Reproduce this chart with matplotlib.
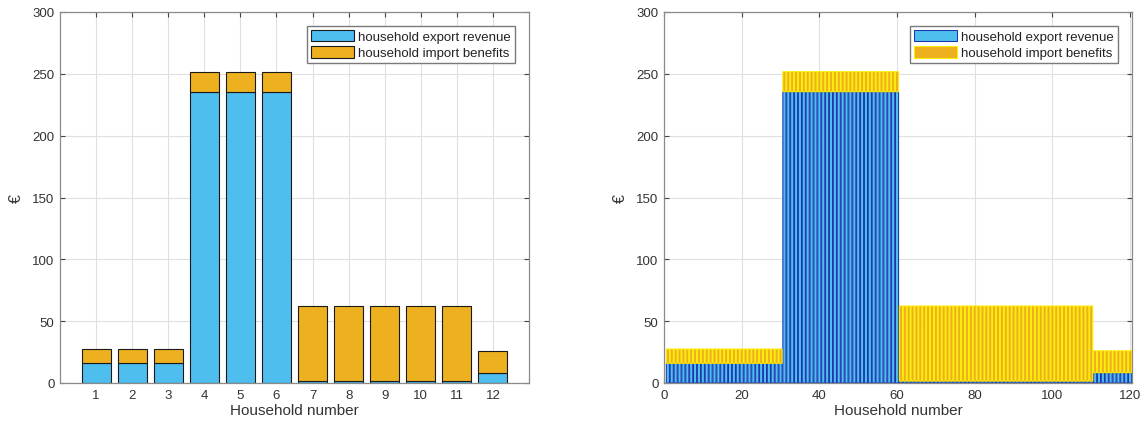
import matplotlib
matplotlib.use("Agg")
import matplotlib.pyplot as plt
import numpy as np

plt.rcParams['font.family'] = ['Liberation Sans', 'DejaVu Sans']

# ---------------- data ----------------
households_12 = [1, 2, 3, 4, 5, 6, 7, 8, 9, 10, 11, 12]
export_12 = [15.9, 15.9, 15.9, 235.5, 235.5, 235.5, 1.5, 1.5, 1.5, 1.5, 1.5, 8.3]
import_12 = [11.6, 11.6, 11.6, 16.3, 16.3, 16.3, 60.8, 60.8, 60.8, 60.8, 60.8, 17.8]

households_120 = list(range(1, 121))
export_120 = [
    15.9, 15.9, 15.9, 15.9, 15.9, 15.9, 15.9, 15.9, 15.9, 15.9,
    15.9, 15.9, 15.9, 15.9, 15.9, 15.9, 15.9, 15.9, 15.9, 15.9,
    15.9, 15.9, 15.9, 15.9, 15.9, 15.9, 15.9, 15.9, 15.9, 15.9,
    235.5, 235.5, 235.5, 235.5, 235.5, 235.5, 235.5, 235.5, 235.5, 235.5,
    235.5, 235.5, 235.5, 235.5, 235.5, 235.5, 235.5, 235.5, 235.5, 235.5,
    235.5, 235.5, 235.5, 235.5, 235.5, 235.5, 235.5, 235.5, 235.5, 235.5,
    1.5, 1.5, 1.5, 1.5, 1.5, 1.5, 1.5, 1.5, 1.5, 1.5,
    1.5, 1.5, 1.5, 1.5, 1.5, 1.5, 1.5, 1.5, 1.5, 1.5,
    1.5, 1.5, 1.5, 1.5, 1.5, 1.5, 1.5, 1.5, 1.5, 1.5,
    1.5, 1.5, 1.5, 1.5, 1.5, 1.5, 1.5, 1.5, 1.5, 1.5,
    1.5, 1.5, 1.5, 1.5, 1.5, 1.5, 1.5, 1.5, 1.5, 1.5,
    8.3, 8.3, 8.3, 8.3, 8.3, 8.3, 8.3, 8.3, 8.3, 8.3,
]
import_120 = [
    11.6, 11.6, 11.6, 11.6, 11.6, 11.6, 11.6, 11.6, 11.6, 11.6,
    11.6, 11.6, 11.6, 11.6, 11.6, 11.6, 11.6, 11.6, 11.6, 11.6,
    11.6, 11.6, 11.6, 11.6, 11.6, 11.6, 11.6, 11.6, 11.6, 11.6,
    16.3, 16.3, 16.3, 16.3, 16.3, 16.3, 16.3, 16.3, 16.3, 16.3,
    16.3, 16.3, 16.3, 16.3, 16.3, 16.3, 16.3, 16.3, 16.3, 16.3,
    16.3, 16.3, 16.3, 16.3, 16.3, 16.3, 16.3, 16.3, 16.3, 16.3,
    60.8, 60.8, 60.8, 60.8, 60.8, 60.8, 60.8, 60.8, 60.8, 60.8,
    60.8, 60.8, 60.8, 60.8, 60.8, 60.8, 60.8, 60.8, 60.8, 60.8,
    60.8, 60.8, 60.8, 60.8, 60.8, 60.8, 60.8, 60.8, 60.8, 60.8,
    60.8, 60.8, 60.8, 60.8, 60.8, 60.8, 60.8, 60.8, 60.8, 60.8,
    60.8, 60.8, 60.8, 60.8, 60.8, 60.8, 60.8, 60.8, 60.8, 60.8,
    17.8, 17.8, 17.8, 17.8, 17.8, 17.8, 17.8, 17.8, 17.8, 17.8,
]

labels = ['household export revenue', 'household import benefits']
yticks = [0, 50, 100, 150, 200, 250, 300]
xticks_right = [0, 20, 40, 60, 80, 100, 120]

# ---------------- style ----------------
C_EXP = '#4DBEEE'
C_IMP = '#EDB120'
SPINE = '#8a8a8a'
TXT = '#333333'

fig = plt.figure(figsize=(11.47, 4.27), dpi=100)
W, H = 1147, 427
ax1 = fig.add_axes([60 / W, 1 - 384 / H, (529 - 60) / W, (384 - 13) / H])
ax2 = fig.add_axes([664 / W, 1 - 384 / H, (1132 - 664) / W, (384 - 13) / H])


def style(ax):
    ax.set_axisbelow(True)
    ax.grid(True, color='#e0e0e0', linewidth=0.8)
    for s in ax.spines.values():
        s.set_color(SPINE)
        s.set_linewidth(0.9)
    ax.tick_params(direction='in', top=True, right=True, length=3.5,
                   width=0.8, color='#444444', labelsize=9.5,
                   labelcolor=TXT, pad=4)
    ax.set_ylim(0, 300)
    ax.set_yticks(yticks)
    ax.set_xlabel('Household number', fontsize=11, color=TXT, labelpad=2)
    ax.set_ylabel('€', fontsize=11.5, color=TXT, labelpad=6)


# left chart
ax1.bar(households_12, export_12, width=0.8, color=C_EXP,
        edgecolor='#1a1a1a', linewidth=0.8, label=labels[0])
ax1.bar(households_12, import_12, width=0.8, bottom=export_12,
        color=C_IMP, edgecolor='#1a1a1a', linewidth=0.8, label=labels[1])
ax1.set_xlim(0, 13)
ax1.set_xticks(households_12)
style(ax1)

# right chart
be = ax2.bar(households_120, export_120, width=0.8, color=C_EXP,
             edgecolor='#1a35b0', linewidth=0.75, label=labels[0])
bi = ax2.bar(households_120, import_120, width=0.8, bottom=export_120,
             color=C_IMP, edgecolor='#ffee00', linewidth=0.75, label=labels[1])
for p in list(be) + list(bi):
    p.set_snap(False)
ax2.set_xlim(0, 120.5)
ax2.set_xticks(xticks_right)
style(ax2)

for ax in (ax1, ax2):
    leg = ax.legend(loc='upper right', bbox_to_anchor=(0.970, 0.962),
                    borderaxespad=0, fontsize=9.5, fancybox=False,
                    framealpha=1, edgecolor='#7a7a7a', handlelength=3.25,
                    handleheight=0.95, handletextpad=0.35, labelspacing=0.22,
                    borderpad=0.3)
    leg.get_frame().set_linewidth(1.0)
    for t in leg.get_texts():
        t.set_color('#222222')

fig.savefig('out.png', dpi=100)
